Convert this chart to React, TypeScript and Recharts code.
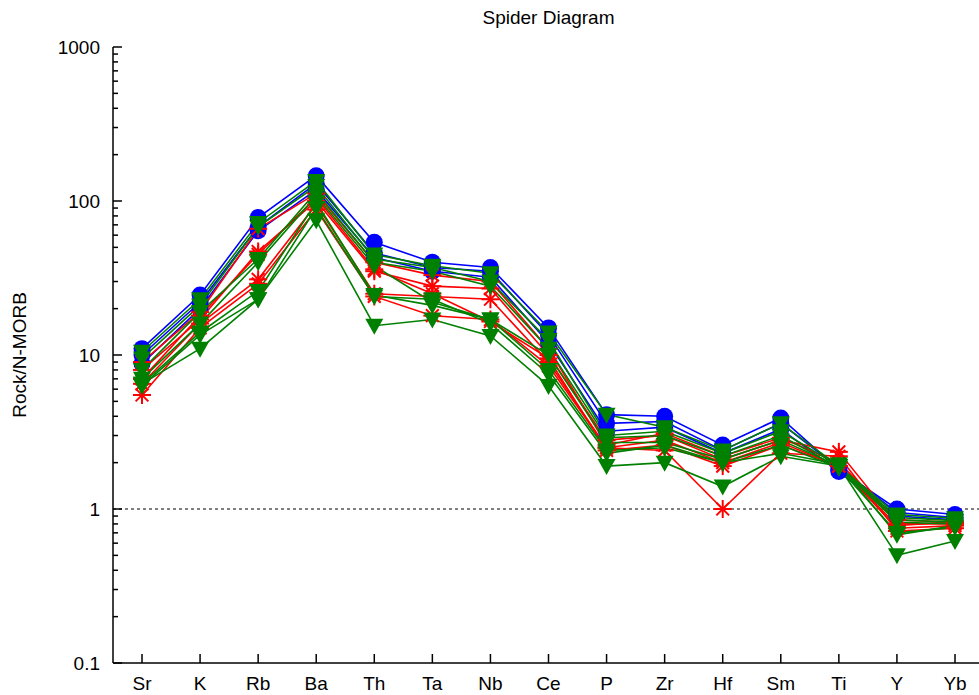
import { LineChart, Line, XAxis, YAxis, ReferenceLine } from 'recharts'

const ELEMENTS = ['Sr', 'K', 'Rb', 'Ba', 'Th', 'Ta', 'Nb', 'Ce', 'P', 'Zr', 'Hf', 'Sm', 'Ti', 'Y', 'Yb']

// rock / N-MORB, one value per element
const BLUE_A = [11, 24.5, 78, 146, 54, 40, 37, 15, 4.1, 4.0, 2.6, 3.9, 1.8, 1.0, 0.92]
const BLUE_B = [10, 22, 68, 130, 46, 37, 35, 13.5, 3.6, 3.7, 2.4, 3.6, 1.85, 0.95, 0.88]
const BLUE_C = [8.8, 20, 64, 118, 43, 35, 32, 12, 3.2, 3.4, 2.3, 3.3, 1.75, 0.9, 0.85]

const RED_A = [9, 19, 66, 112, 40, 33, 30, 11, 2.6, 3.1, 2.2, 2.9, 2.0, 0.85, 0.82]
const RED_B = [8, 17, 47, 100, 35, 28, 27, 10, 2.8, 3.0, 2.1, 2.8, 2.35, 0.8, 0.8]
const RED_C = [6.5, 16, 31, 95, 25, 24, 23, 9, 2.5, 2.8, 2.0, 2.7, 1.9, 0.75, 0.78]
const RED_D = [5.5, 15, 29, 88, 24, 18, 17, 8.5, 2.5, 2.4, 1.0, 2.3, 2.2, 0.72, 0.75]
const RED_E = [7, 18, 45, 105, 36, 25, 16.5, 9.5, 2.4, 2.6, 1.9, 2.6, 1.9, 0.78, 0.83]

const GREEN_A = [10.5, 23, 72, 135, 45, 38, 34, 14, 4.1, 3.4, 2.4, 3.6, 1.9, 0.92, 0.87]
const GREEN_B = [9.5, 21, 68, 125, 42, 37, 30, 12.5, 3.0, 3.2, 2.3, 3.2, 1.9, 0.88, 0.84]
const GREEN_C = [8, 19, 42, 115, 40, 35, 28, 11, 2.9, 3.0, 2.2, 3.0, 1.85, 0.85, 0.82]
const GREEN_D = [7, 16, 40, 108, 38, 22, 17, 10, 2.7, 2.7, 2.1, 2.8, 1.9, 0.82, 0.8]
const GREEN_E = [6.5, 14, 26, 98, 24.5, 21, 17, 8, 2.4, 2.5, 2.0, 2.6, 1.85, 0.7, 0.76]
const GREEN_F = [6.3, 13.5, 23, 90, 24, 23, 16, 7.5, 2.3, 2.6, 2.0, 2.3, 1.95, 0.68, 0.78]
const GREEN_G = [6.5, 11, 23, 75, 15.5, 17, 13.3, 6.3, 1.9, 2.0, 1.4, 2.2, 1.9, 0.5, 0.62]

const Y_MAJOR = [0.1, 1, 10, 100, 1000]
const Y_MANTISSA = [2, 3, 4, 5, 6, 7, 8, 9]

const BLUE = '#0000ff'
const RED = '#ff0000'
const GREEN = '#008000'
const FONT = "'Liberation Sans', Arial, sans-serif"

const SERIES = [
  { key: 'blueA', values: BLUE_A, kind: 'circle' },
  { key: 'blueB', values: BLUE_B, kind: 'circle' },
  { key: 'blueC', values: BLUE_C, kind: 'circle' },
  { key: 'redA', values: RED_A, kind: 'star' },
  { key: 'redB', values: RED_B, kind: 'star' },
  { key: 'redC', values: RED_C, kind: 'star' },
  { key: 'redD', values: RED_D, kind: 'star' },
  { key: 'redE', values: RED_E, kind: 'star' },
  { key: 'greenA', values: GREEN_A, kind: 'tri' },
  { key: 'greenB', values: GREEN_B, kind: 'tri' },
  { key: 'greenC', values: GREEN_C, kind: 'tri' },
  { key: 'greenD', values: GREEN_D, kind: 'tri' },
  { key: 'greenE', values: GREEN_E, kind: 'tri' },
  { key: 'greenF', values: GREEN_F, kind: 'tri' },
  { key: 'greenG', values: GREEN_G, kind: 'tri' },
]

const COLORS: Record<string, string> = { circle: BLUE, star: RED, tri: GREEN }

const data = ELEMENTS.map((el, i) => {
  const row: Record<string, any> = { el }
  SERIES.forEach((s) => (row[s.key] = s.values[i]))
  return row
})

const yTicks = Y_MAJOR.flatMap((d) => (d < 1000 ? [d, ...Y_MANTISSA.map((m) => +(m * d).toPrecision(3))] : [d]))

function Marker({ cx, cy, kind }: any) {
  if (cx == null || cy == null) return null
  if (kind === 'circle') return <circle cx={cx} cy={cy} r={8.5} fill={BLUE} />
  if (kind === 'tri')
    return <polygon points={`${cx - 9},${cy - 7} ${cx + 9},${cy - 7} ${cx},${cy + 9}`} fill={GREEN} />
  const r = 9
  const d = r * 0.707
  return (
    <g stroke={RED} strokeWidth={2}>
      <line x1={cx - r} y1={cy} x2={cx + r} y2={cy} />
      <line x1={cx} y1={cy - r} x2={cx} y2={cy + r} />
      <line x1={cx - d} y1={cy - d} x2={cx + d} y2={cy + d} />
      <line x1={cx - d} y1={cy + d} x2={cx + d} y2={cy - d} />
    </g>
  )
}

// ticks drawn inward, gnuplot style
function BottomTick({ x, y, payload }: any) {
  return (
    <g>
      <line x1={x} x2={x} y1={y} y2={y - 9} stroke="#000" strokeWidth={1.5} />
      <text x={x} y={y + 27} textAnchor="middle" fontSize={19} fontFamily={FONT} fill="#000">
        {payload.value}
      </text>
    </g>
  )
}

function TopTick({ x, y }: any) {
  return <line x1={x} x2={x} y1={y} y2={y + 9} stroke="#000" strokeWidth={1.5} />
}

function LeftTick({ x, y, payload }: any) {
  const ax = x + 13
  const major = Y_MAJOR.includes(payload.value)
  return (
    <g>
      <line x1={ax} x2={ax + (major ? 9 : 5)} y1={y} y2={y} stroke="#000" strokeWidth={1.5} />
      {major && (
        <text x={x} y={y} dy={7} textAnchor="end" fontSize={19} fontFamily={FONT} fill="#000">
          {String(payload.value)}
        </text>
      )}
    </g>
  )
}

function RightTick({ x, y, payload }: any) {
  const major = Y_MAJOR.includes(payload.value)
  return <line x1={x} x2={x - (major ? 9 : 5)} y1={y} y2={y} stroke="#000" strokeWidth={1.5} />
}

export default function App() {
  return (
    <div
      style={{
        position: 'absolute',
        left: 0,
        top: 0,
        width: 979,
        height: 695,
        overflow: 'hidden',
        background: '#fff',
        fontFamily: FONT,
      }}
    >
      <div
        style={{
          position: 'absolute',
          top: 7,
          left: 113,
          width: 871,
          textAlign: 'center',
          fontSize: 19,
          lineHeight: '22px',
        }}
      >
        Spider Diagram
      </div>
      <div
        style={{
          position: 'absolute',
          left: 20,
          top: 355,
          transform: 'translate(-50%, -50%) rotate(-90deg)',
          fontSize: 19,
          whiteSpace: 'nowrap',
        }}
      >
        Rock/N-MORB
      </div>
      <LineChart width={1000} height={695} data={data} margin={{ top: 47, right: 16, bottom: 0, left: 0 }}>
        <XAxis
          dataKey="el"
          height={32}
          interval={0}
          tickSize={0}
          tickMargin={0}
          padding={{ left: 29, right: 29 }}
          axisLine={{ stroke: '#000', strokeWidth: 1.5 }}
          tick={<BottomTick />}
        />
        <XAxis
          xAxisId="top"
          orientation="top"
          dataKey="el"
          height={0}
          interval={0}
          tickSize={0}
          tickMargin={0}
          padding={{ left: 29, right: 29 }}
          axisLine={{ stroke: '#000', strokeWidth: 1.5 }}
          tick={<TopTick />}
        />
        <YAxis
          yAxisId="left"
          type="number"
          scale="log"
          domain={[0.1, 1000]}
          allowDataOverflow
          ticks={yTicks}
          interval={0}
          width={113}
          tickSize={0}
          tickMargin={13}
          axisLine={{ stroke: '#000', strokeWidth: 1.5 }}
          tick={<LeftTick />}
        />
        <YAxis
          yAxisId="right"
          orientation="right"
          type="number"
          scale="log"
          domain={[0.1, 1000]}
          allowDataOverflow
          ticks={yTicks}
          interval={0}
          width={0}
          tickSize={0}
          tickMargin={0}
          axisLine={{ stroke: '#000', strokeWidth: 1.5 }}
          tick={<RightTick />}
        />
        <ReferenceLine yAxisId="left" y={1} stroke="#000" strokeDasharray="3 3" />
        {SERIES.map((s) => (
          <Line
            key={s.key}
            yAxisId="left"
            dataKey={s.key}
            stroke={COLORS[s.kind]}
            strokeWidth={1.6}
            type="linear"
            isAnimationActive={false}
            dot={(p: any) => <Marker key={`${s.key}-${p.index}`} cx={p.cx} cy={p.cy} kind={s.kind} />}
            activeDot={false}
          />
        ))}
      </LineChart>
    </div>
  )
}
